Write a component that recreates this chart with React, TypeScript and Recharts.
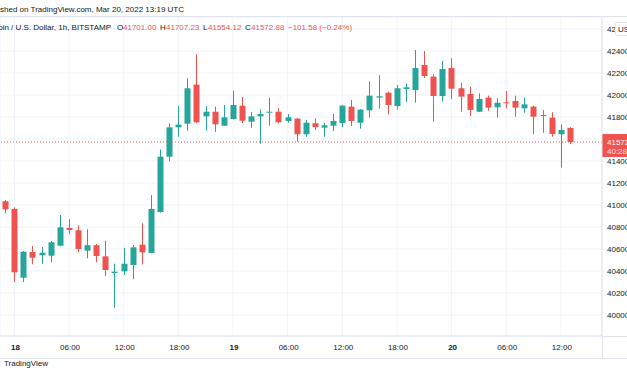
import React from 'react';
import { ComposedChart, Bar, XAxis, YAxis, CartesianGrid, ReferenceLine } from 'recharts';

const times = [
  '17T23',
  '18T00', '18T01', '18T02', '18T03', '18T04', '18T05', '18T06', '18T07', '18T08', '18T09', '18T10', '18T11',
  '18T12', '18T13', '18T14', '18T15', '18T16', '18T17', '18T18', '18T19', '18T20', '18T21', '18T22', '18T23',
  '19T00', '19T01', '19T02', '19T03', '19T04', '19T05', '19T06', '19T07', '19T08', '19T09', '19T10', '19T11',
  '19T12', '19T13', '19T14', '19T15', '19T16', '19T17', '19T18', '19T19', '19T20', '19T21', '19T22', '19T23',
  '20T00', '20T01', '20T02', '20T03', '20T04', '20T05', '20T06', '20T07', '20T08', '20T09', '20T10', '20T11',
  '20T12', '20T13',
];

const opens = [
  41034,
  40964, 40339, 40573, 40543, 40539, 40630, 40791, 40770, 40585, 40634, 40533, 40382,
  40397, 40455, 40639, 40564, 40936, 41439, 41706, 41739, 42094, 41806, 41848, 41721,
  41782, 41903, 41757, 41806, 41839, 41848, 41764, 41785, 41643, 41743, 41703, 41721,
  41745, 41894, 41748, 41861, 41976, 42021, 41900, 42055, 42045, 42273, 42167, 41991,
  42245, 42061, 42009, 41848, 41976, 41888, 41933, 41945, 41879, 41894, 41818, 41794,
  41643, 41701.0,
];
const highs = [
  41045,
  40979, 40582, 40627, 40618, 40673, 40909, 40870, 40815, 40779, 40645, 40675, 40466,
  40609, 40636, 40834, 41091, 41506, 41743, 41900, 42152, 42370, 41900, 41894, 41909,
  42039, 41982, 41845, 41870, 41975, 41879, 41827, 41790, 41773, 41788, 41748, 41827,
  41909, 41955, 41870, 42124, 42179, 42030, 42091, 42106, 42409, 42400, 42188, 42312,
  42334, 42112, 42076, 42015, 41994, 41970, 42036, 41994, 41976, 41903, 41864, 41843,
  41733, 41707.23,
];
const lows = [
  40925,
  40300, 40300, 40461, 40466, 40479, 40625, 40734, 40570, 40515, 40479, 40355, 40066,
  40364, 40325, 40461, 40560, 40930, 41394, 41621, 41675, 41745, 41675, 41664, 41718,
  41778, 41743, 41703, 41557, 41721, 41743, 41748, 41575, 41621, 41682, 41621, 41673,
  41706, 41718, 41694, 41794, 41876, 41824, 41866, 41936, 41930, 42155, 41757, 41939,
  41961, 41848, 41809, 41845, 41857, 41794, 41879, 41803, 41839, 41643, 41657, 41621,
  41339, 41554.12,
];
const closes = [
  40961,
  40388, 40575, 40521, 40566, 40661, 40797, 40773, 40600, 40634, 40536, 40409, 40394,
  40466, 40615, 40570, 40964, 41439, 41706, 41730, 42061, 41752, 41848, 41734, 41797,
  41909, 41766, 41806, 41827, 41848, 41752, 41797, 41643, 41748, 41709, 41724, 41764,
  41903, 41764, 41867, 41994, 41988, 41909, 42061, 42070, 42245, 42173, 41991, 42236,
  42057, 41985, 41864, 41964, 41885, 41930, 41924, 41885, 41915, 41803, 41809, 41645,
  41682, 41572.88,
];

const tickKeys = ['18T00', '18T06', '18T12', '18T18', '19T00', '19T06', '19T12', '19T18', '20T00', '20T06', '20T12'];
const tickLabels = ['18', '06:00', '12:00', '18:00', '19', '06:00', '12:00', '18:00', '20', '06:00', '12:00'];
const dayLabels = ['18', '19', '20'];
const priceTicks = [40000, 40200, 40400, 40600, 40800, 41000, 41200, 41400, 41600, 41800, 42000, 42200, 42400, 42600];
const hiddenPriceTicks = [41600];
const lastPrice = 41572.88;
const lastPriceText = '41572';
const countdownText = '40:28';

const data = times.map((t, i) => ({
  t,
  open: opens[i],
  high: highs[i],
  low: lows[i],
  close: closes[i],
}));

const UP = '#26a69a';
const DOWN = '#ef5350';
const TEXT = '#131722';
const FONT = "'Liberation Sans', Arial, sans-serif";
const FS = 8;
const GRID = '#f0f3fa';
const BORDER = '#e0e3eb';

function Candle(props: any) {
  const { x, y, width, height, payload } = props;
  if (!payload) return null;
  const { open, close, high, low } = payload;
  const color = close >= open ? UP : DOWN;
  const h = Math.abs(height);
  const top0 = height >= 0 ? y : y + height;
  const k = h / (high - low);
  const cx = Math.round(x + width / 2) + 0.5;
  const bTop = top0 + (high - Math.max(open, close)) * k;
  const bBot = top0 + (high - Math.min(open, close)) * k;
  const bw = 6;
  return (
    <g>
      <line x1={cx} x2={cx} y1={top0} y2={top0 + h} stroke={color} strokeWidth={1} />
      <rect x={cx - bw / 2} y={bTop} width={bw} height={Math.max(bBot - bTop, 1)} fill={color} />
    </g>
  );
}

function XTick(props: any) {
  const { x, y, payload } = props;
  const idx = tickKeys.indexOf(payload.value);
  if (idx < 0) return null;
  const label = tickLabels[idx];
  const bold = dayLabels.includes(label);
  return (
    <text x={x + 1} y={y + 14} textAnchor="middle" fontSize={FS} fontFamily={FONT} fontWeight={bold ? 700 : 400} fill={TEXT}>
      {label}
    </text>
  );
}

function YTick(props: any) {
  const { x, y, payload } = props;
  if (hiddenPriceTicks.includes(payload.value)) return null;
  return (
    <text x={x + 5} y={y + 3} textAnchor="start" fontSize={FS} fontFamily={FONT} fill={TEXT}>
      {payload.value}
    </text>
  );
}

function PriceBadge(props: any) {
  const vb = props.viewBox || {};
  const lx = (vb.x || 0) + (vb.width || 0);
  const ly = vb.y || 0;
  return (
    <g>
      <rect x={lx} y={ly - 8} width={30} height={23} fill={DOWN} />
      <text x={lx + 5} y={ly + 3} fontSize={FS} fontFamily={FONT} fill="#ffffff">{lastPriceText}</text>
      <text x={lx + 5} y={ly + 12} fontSize={FS} fontFamily={FONT} fill="#ffffff" fillOpacity={0.85}>{countdownText}</text>
    </g>
  );
}

export default function App() {
  return (
    <div style={{ position: 'absolute', left: 0, top: 0, width: 627, height: 376, background: '#ffffff', overflow: 'hidden' }}>
      <ComposedChart
        width={627}
        height={376}
        data={data}
        margin={{ top: 17, right: 0, left: 0, bottom: 18 }}
        barCategoryGap="10%"
      >
        <CartesianGrid stroke={GRID} strokeWidth={1} vertical horizontal />
        <XAxis
          dataKey="t"
          type="category"
          ticks={tickKeys}
          interval={0}
          height={22}
          padding={{ left: 0.75, right: 27.45 }}
          tickLine={false}
          tickSize={0}
          tickMargin={0}
          axisLine={{ stroke: BORDER }}
          tick={<XTick />}
        />
        <YAxis
          orientation="right"
          width={25}
          domain={[39809, 42709]}
          ticks={priceTicks}
          interval={0}
          type="number"
          allowDataOverflow
          tickLine={false}
          tickSize={0}
          tickMargin={0}
          axisLine={{ stroke: BORDER }}
          tick={<YTick />}
        />
        <Bar
          dataKey={(d: any) => [d.low, d.high]}
          shape={<Candle />}
          isAnimationActive={false}
        />
        <ReferenceLine
          y={lastPrice}
          stroke={DOWN}
          strokeDasharray="1 2"
          strokeWidth={1}
          label={<PriceBadge />}
        />
      </ComposedChart>
      <svg width={627} height={376} style={{ position: 'absolute', left: 0, top: 0, pointerEvents: 'none' }}>
        <line x1={0} x2={627} y1={16.5} y2={16.5} stroke={BORDER} />
        <line x1={602} x2={627} y1={336.5} y2={336.5} stroke={BORDER} />
        <line x1={0} x2={627} y1={358.5} y2={358.5} stroke={BORDER} />
        <line x1={602.5} x2={602.5} y1={336} y2={358} stroke={BORDER} />
        <text x={184} y={12} textAnchor="end" fontSize={FS} fontFamily={FONT} fill={TEXT}>
          Published on TradingView.com, Mar 20, 2022 13:19 UTC
        </text>
        <text x={111} y={30} textAnchor="end" fontSize={FS} fontFamily={FONT} fill={TEXT}>
          Bitcoin / U.S. Dollar, 1h, BITSTAMP
        </text>
        <text x={117} y={30} fontSize={FS} fontFamily={FONT} fill={TEXT}>O</text>
        <text x={123} y={30} fontSize={FS} fontFamily={FONT} fill={DOWN}>41701.00</text>
        <text x={160} y={30} fontSize={FS} fontFamily={FONT} fill={TEXT}>H</text>
        <text x={166} y={30} fontSize={FS} fontFamily={FONT} fill={DOWN}>41707.23</text>
        <text x={203} y={30} fontSize={FS} fontFamily={FONT} fill={TEXT}>L</text>
        <text x={208} y={30} fontSize={FS} fontFamily={FONT} fill={DOWN}>41554.12</text>
        <text x={245} y={30} fontSize={FS} fontFamily={FONT} fill={TEXT}>C</text>
        <text x={251} y={30} fontSize={FS} fontFamily={FONT} fill={DOWN}>41572.88</text>
        <text x={288} y={30} fontSize={FS} fontFamily={FONT} fill={DOWN}>−101.58 (−0.24%)</text>
        <rect x={615.5} y={22.5} width={20} height={13} rx={2} fill="#ffffff" stroke={BORDER} />
        <text x={618} y={32} fontSize={FS} fontFamily={FONT} fill={TEXT}>USD</text>
        <text x={48} y={366} textAnchor="end" fontSize={FS} fontFamily={FONT} fill={TEXT}>TradingView</text>
      </svg>
    </div>
  );
}
